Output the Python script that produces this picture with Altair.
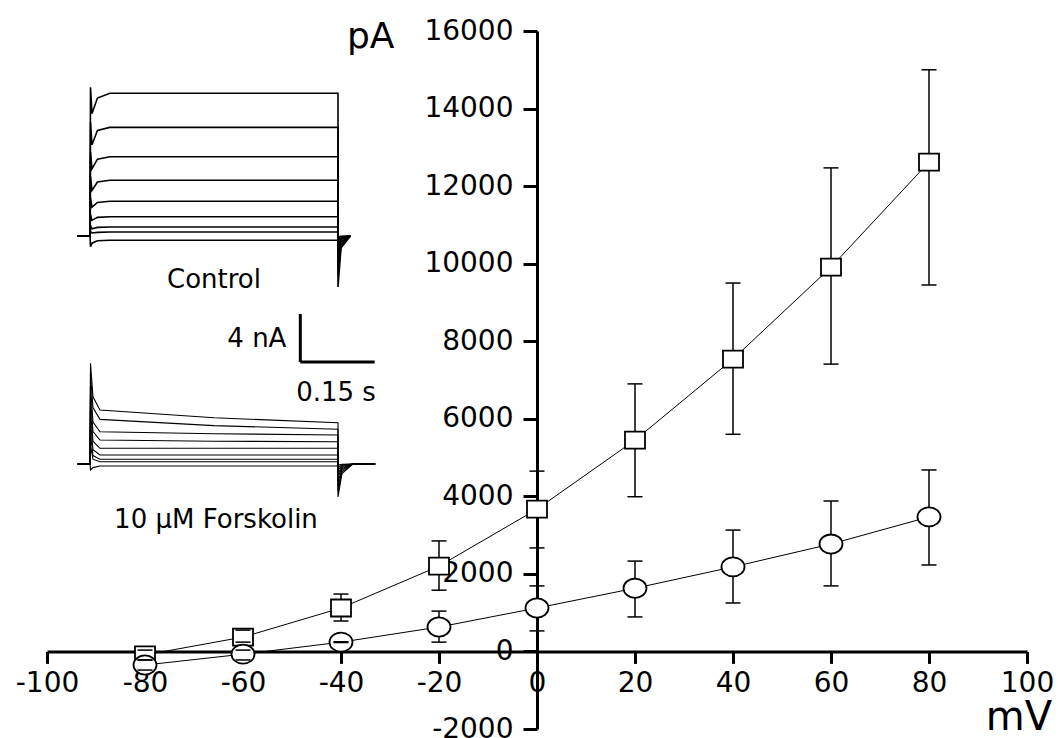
import altair as alt
import pandas as pd

# ---------------- I-V data (pA) ----------------
voltage = [-80, -60, -40, -20, 0, 20, 40, 60, 80]
control_mean = [-90, 370, 1120, 2200, 3670, 5450, 7540, 9910, 12620]
control_hi = [35, 550, 1480, 2850, 4650, 6900, 9500, 12470, 15000]
control_lo = [-220, 240, 785, 1580, 2670, 3990, 5600, 7410, 9450]
forsk_mean = [-350, -70, 240, 630, 1120, 1630, 2180, 2770, 3470]
forsk_hi = [-220, 35, 250, 1040, 1690, 2330, 3130, 3880, 4680]
forsk_lo = [-480, -220, 230, 240, 530, 890, 1250, 1690, 2230]

x_ticks = [-100, -80, -60, -40, -20, 0, 20, 40, 60, 80, 100]
y_ticks = [-2000, 0, 2000, 4000, 6000, 8000, 10000, 12000, 14000, 16000]

# ---------------- inset traces (time s, current nA) ----------------
ctrl_times = [-0.025, 0.0, 0.001, 0.004, 0.015, 0.04, 0.5, 0.5, 0.506, 0.525]
ctrl_spike = [12.4, 9.5, 7.0, 5.0, 3.2, 1.8, 0.9, 0.4, -0.9]
ctrl_dip = [10.2, 7.6, 5.6, 3.8, 2.4, 1.3, 0.6, 0.25, -0.6]
ctrl_rise = [11.5, 8.8, 6.4, 4.5, 2.8, 1.55, 0.72, 0.3, -0.4]
ctrl_level = [11.9, 9.05, 6.6, 4.65, 2.9, 1.6, 0.75, 0.33, -0.35]
ctrl_tail = [-4.25, -3.3, -2.5, -1.8, -1.2, -0.8, -0.5, -0.3, -0.1]
ctrl_tail2 = [-1.0, -0.8, -0.6, -0.45, -0.3, -0.2, -0.12, -0.06, -0.02]

fsk_times = [-0.025, 0.0, 0.001, 0.006, 0.02, 0.25, 0.5, 0.5, 0.508, 0.53, 0.575]
fsk_spike = [8.4, 7.5, 6.5, 5.5, 4.5, 3.5, 2.5, 1.5, -0.5]
fsk_early = [5.6, 4.7, 3.5, 2.7, 1.9, 1.2, 0.7, 0.4, -0.3]
fsk_start = [4.5, 3.72, 2.69, 2.0, 1.31, 0.75, 0.39, 0.19, -0.17]
fsk_mid = [3.85, 3.2, 2.52, 1.9, 1.31, 0.75, 0.39, 0.19, -0.17]
fsk_end = [3.44, 2.89, 2.42, 1.86, 1.31, 0.75, 0.39, 0.19, -0.17]
fsk_tail = [-2.75, -2.3, -1.9, -1.5, -1.1, -0.8, -0.5, -0.3, -0.1]
fsk_tail2 = [-0.8, -0.65, -0.5, -0.4, -0.3, -0.2, -0.12, -0.06, -0.02]

FONT = "DejaVu Sans"

# ---------------- tables ----------------
ctrl_df = pd.DataFrame({"mV": voltage, "pA": control_mean, "hi": control_hi, "lo": control_lo})
fsk_df = pd.DataFrame({"mV": voltage, "pA": forsk_mean, "hi": forsk_hi, "lo": forsk_lo})

ctrl_rows = []
for k in range(len(ctrl_level)):
    vals = [0, 0, ctrl_spike[k], ctrl_dip[k], ctrl_rise[k], ctrl_level[k],
            ctrl_level[k], ctrl_tail[k], ctrl_tail2[k], 0]
    for i, (t, v) in enumerate(zip(ctrl_times, vals)):
        ctrl_rows.append({"trace": k, "i": i, "t": t, "nA": v})
ctrl_tr = pd.DataFrame(ctrl_rows)

fsk_rows = []
for k in range(len(fsk_start)):
    vals = [0, 0, fsk_spike[k], fsk_early[k], fsk_start[k], fsk_mid[k],
            fsk_end[k], fsk_tail[k], fsk_tail2[k], 0, 0]
    for i, (t, v) in enumerate(zip(fsk_times, vals)):
        fsk_rows.append({"trace": k, "i": i, "t": t, "nA": v})
fsk_tr = pd.DataFrame(fsk_rows)

# ---------------- main I-V plot ----------------
axis_common = dict(
    domainColor="black", domainWidth=3, tickColor="black", tickWidth=3,
    labelFont=FONT, labelFontSize=28, labelColor="black", grid=False,
    title=None, labelFlush=False, labelOverlap=False,
    labelExpr="'' + datum.value",
)
xs = alt.Scale(domain=[-100, 100], nice=False, zero=False)
ys = alt.Scale(domain=[-2000, 16000], nice=False, zero=False)
X = alt.X("mV:Q", scale=xs,
          axis=alt.Axis(values=x_ticks, offset=-77.6, tickSize=12, labelPadding=6, **axis_common))
Y = alt.Y("pA:Q", scale=ys,
          axis=alt.Axis(values=y_ticks, offset=-490, tickSize=14, labelPadding=10, **axis_common))

SQ = "M-1,-0.85H1V0.85H-1Z"
ELL = ("M1,0C1,0.458,0.552,0.83,0,0.83C-0.552,0.83,-1,0.458,-1,0"
       "C-1,-0.458,-0.552,-0.83,0,-0.83C0.552,-0.83,1,-0.458,1,0Z")
CAP = "M-1,0H1"


def series_layers(df, shape, size):
    base = alt.Chart(df)
    line = base.mark_line(color="black", strokeWidth=1).encode(x=X, y=Y)
    rule = base.mark_rule(color="black", strokeWidth=1.5).encode(x=X, y=alt.Y("lo:Q", scale=ys), y2="hi:Q")
    pts = base.mark_point(shape=shape, size=size, filled=True, fill="white", stroke="black",
                          strokeWidth=1.8, opacity=1).encode(x=X, y=Y)
    cap_hi = base.mark_point(shape=CAP, size=225, filled=False, stroke="black",
                             strokeWidth=1.5, opacity=1).encode(x=X, y=alt.Y("hi:Q", scale=ys))
    cap_lo = base.mark_point(shape=CAP, size=225, filled=False, stroke="black",
                             strokeWidth=1.5, opacity=1).encode(x=X, y=alt.Y("lo:Q", scale=ys))
    return [line, rule, pts, cap_hi, cap_lo]


c_layers = series_layers(ctrl_df, SQ, 400)
f_layers = series_layers(fsk_df, ELL, 529)

one = pd.DataFrame({"a": [0]})
pa_text = alt.Chart(one).mark_text(font=FONT, fontSize=36, align="left", baseline="alphabetic",
                                   color="black").encode(x=alt.value(300), y=alt.value(17), text=alt.value("pA"))
mv_text = alt.Chart(one).mark_text(font=FONT, fontSize=40, align="right", baseline="alphabetic",
                                   color="black").encode(x=alt.value(1005), y=alt.value(699), text=alt.value("mV"))

main = alt.layer(c_layers[0], f_layers[0], c_layers[1], f_layers[1], c_layers[2], f_layers[2],
                 c_layers[3], c_layers[4], f_layers[3], f_layers[4], pa_text, mv_text)

# ---------------- insets ----------------
tx = alt.Scale(domain=[0, 0.5], range=[43, 291], nice=False, zero=False)
cy = alt.Scale(domain=[0, 12], range=[205, 61], nice=False, zero=False)
fy = alt.Scale(domain=[0, 12], range=[433, 289], nice=False, zero=False)

ctrl_lines = alt.Chart(ctrl_tr).mark_line(color="black", strokeWidth=1.6).encode(
    x=alt.X("t:Q", scale=tx, axis=None), y=alt.Y("nA:Q", scale=cy, axis=None),
    detail="trace:N", order="i:Q")

bar_df = pd.DataFrame({"t": [0.424, 0.424], "t2": [0.424, 0.574], "nA": [-6.5, -10.5], "nA2": [-10.5, -10.5]})
scale_bar = alt.Chart(bar_df).mark_rule(color="black", strokeWidth=3).encode(
    x=alt.X("t:Q", scale=tx, axis=None), x2="t2:Q",
    y=alt.Y("nA:Q", scale=cy, axis=None), y2="nA2:Q")

lab_df = pd.DataFrame({
    "t": [0.25, 0.396, 0.496],
    "nA": [-4.33, -9.25, -13.75],
    "label": ["Control", "4 nA", "0.15 s"],
    "align": ["center", "right", "center"],
})
ctrl_labels = []
for _, r in lab_df.iterrows():
    ctrl_labels.append(
        alt.Chart(lab_df[lab_df["label"] == r["label"]]).mark_text(
            font=FONT, fontSize=26, align=r["align"], baseline="alphabetic", color="black"
        ).encode(x=alt.X("t:Q", scale=tx, axis=None), y=alt.Y("nA:Q", scale=cy, axis=None), text="label:N")
    )

ctrl_inset = alt.layer(ctrl_lines, scale_bar, *ctrl_labels)

fsk_lines = alt.Chart(fsk_tr).mark_line(color="black", strokeWidth=1.1).encode(
    x=alt.X("t:Q", scale=tx, axis=None), y=alt.Y("nA:Q", scale=fy, axis=None),
    detail="trace:N", order="i:Q")
fsk_lab = alt.Chart(pd.DataFrame({"t": [0.254], "nA": [-5.33], "label": ["10 µM Forskolin"]})).mark_text(
    font=FONT, fontSize=26, align="center", baseline="alphabetic", color="black"
).encode(x=alt.X("t:Q", scale=tx, axis=None), y=alt.Y("nA:Q", scale=fy, axis=None), text="label:N")
fsk_inset = alt.layer(fsk_lines, fsk_lab)

chart = alt.layer(main, ctrl_inset, fsk_inset).resolve_scale(
    x="independent", y="independent"
).properties(
    width=980, height=698,
    autosize=alt.AutoSizeParams(type="none"),
    padding={"left": 47, "top": 31, "right": 31, "bottom": 9},
    background="white",
).configure_view(stroke=None)

chart.save("out.html", embed_options={"renderer": "svg", "actions": False})
